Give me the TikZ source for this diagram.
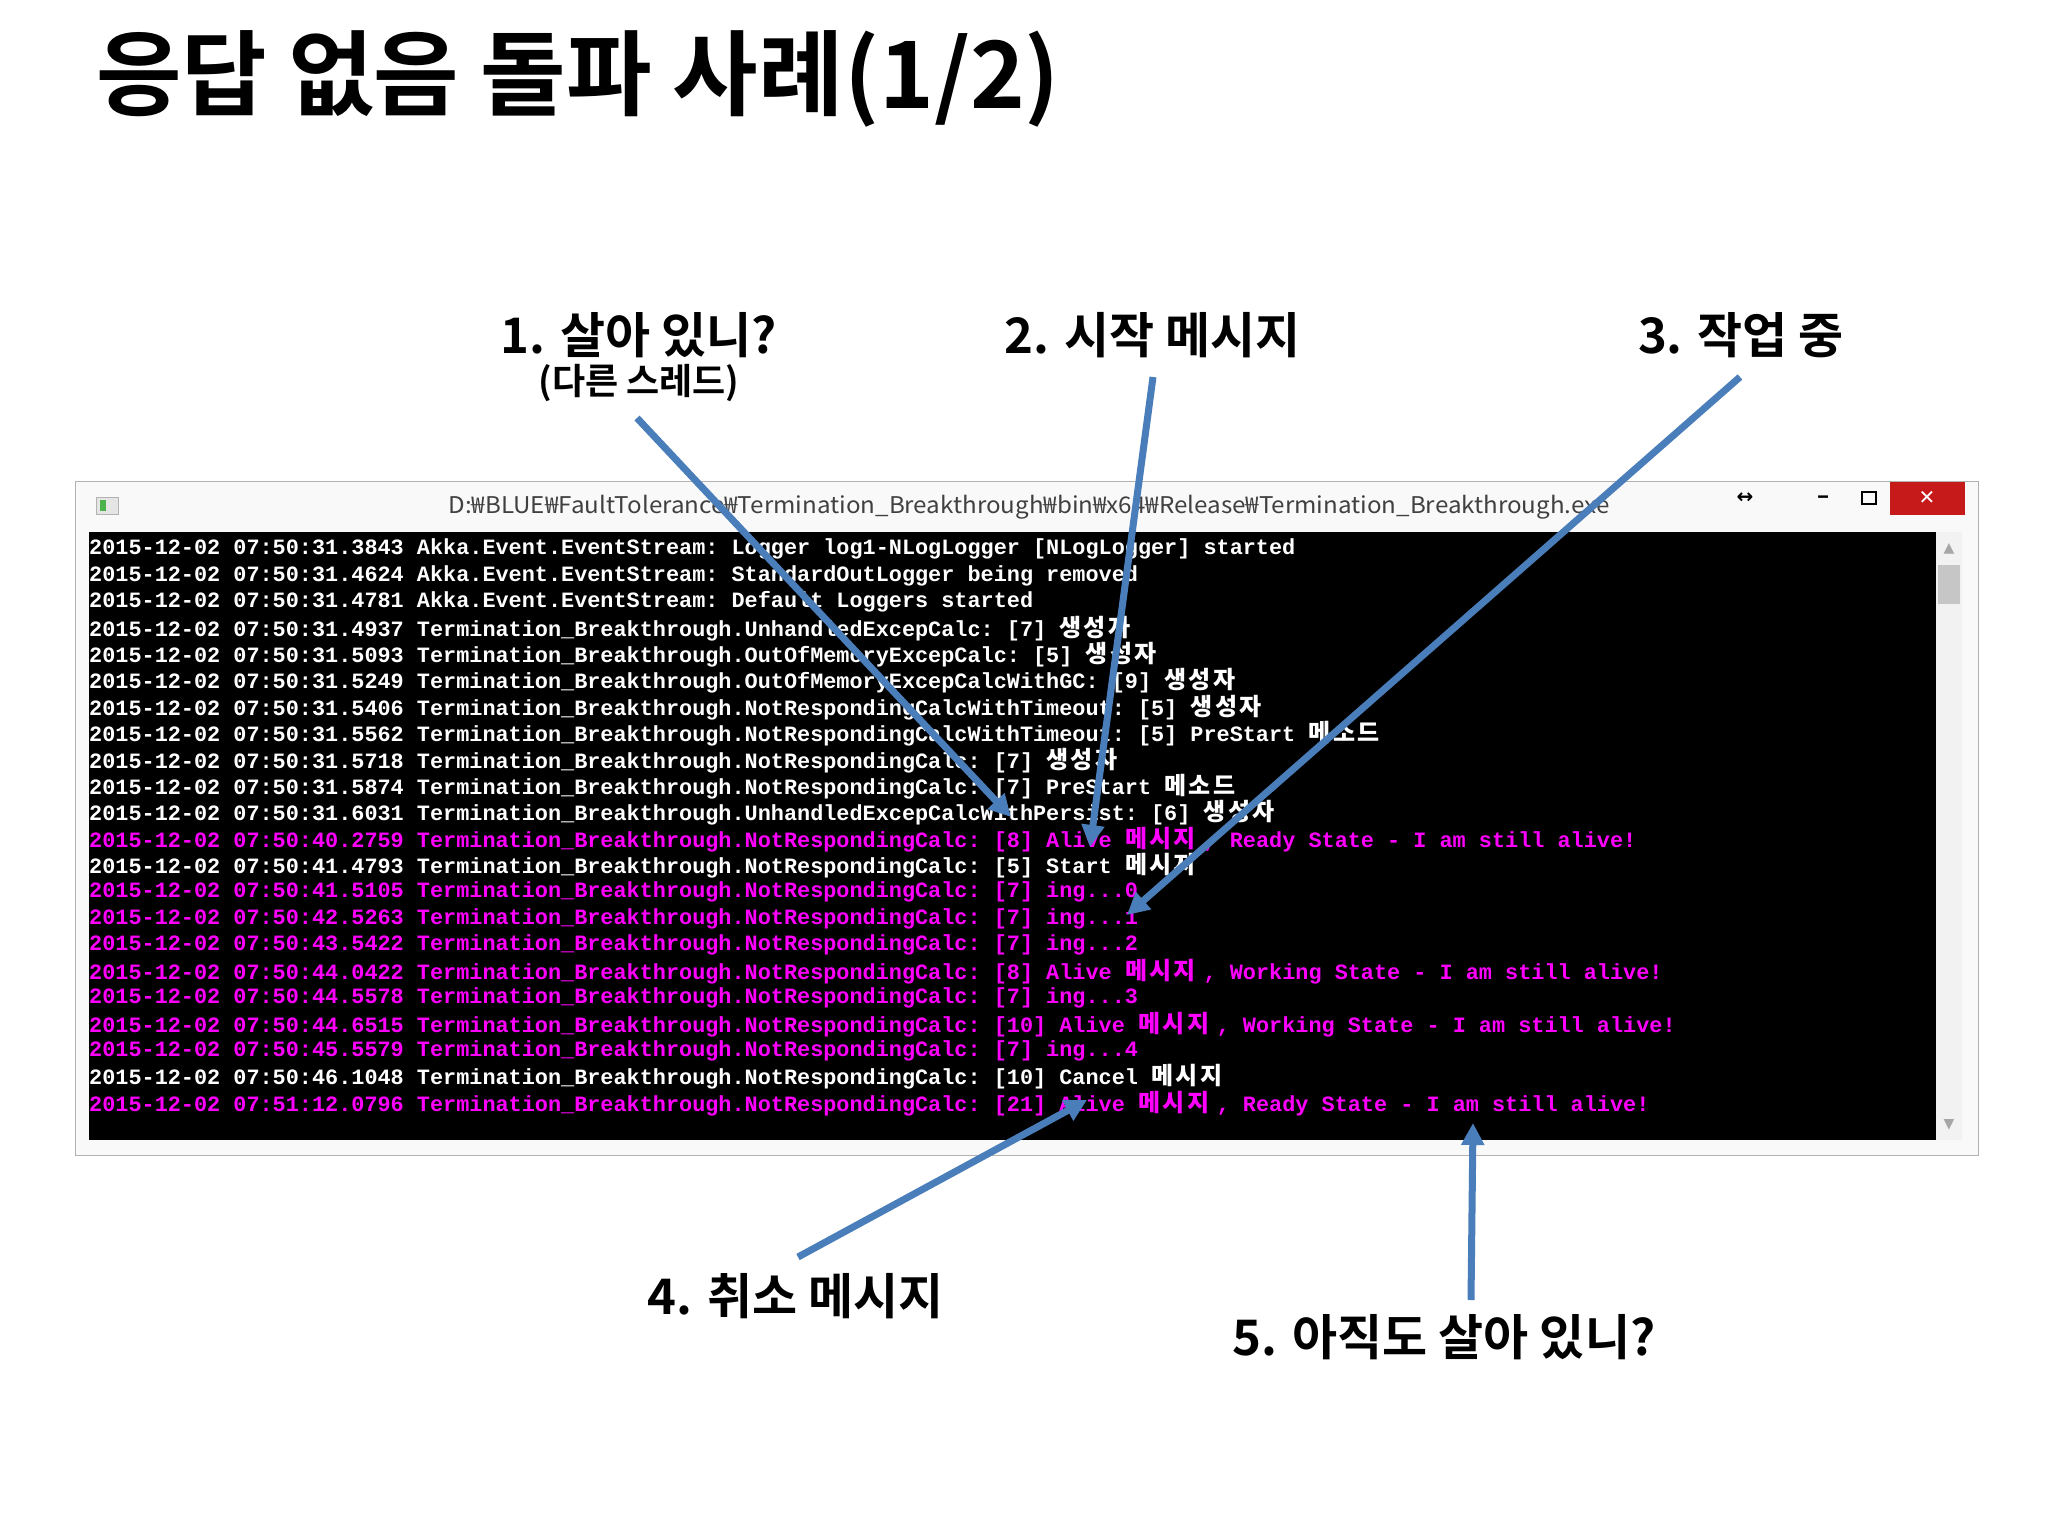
\documentclass[tikz,border=0pt]{standalone}
\usepackage{fontspec}
\setmonofont{Liberation Mono}
\newfontfamily\kr{Noto Sans CJK KR}
\newfontfamily\krb{Noto Sans CJK KR Bold}
\newfontfamily\dv{DejaVu Sans}
\usetikzlibrary{arrows.meta}
\definecolor{mag}{HTML}{FF00FF}
\definecolor{arr}{HTML}{4A7EBB}
\newcommand{\K}[1]{\makebox[78.6pt][l]{\kr\fontsize{24}{24}\selectfont\addfontfeatures{LetterSpace=10}#1}}
\tikzset{
  lw/.style={anchor=west,inner sep=0pt,text=white,font=\ttfamily\bfseries\fontsize{21.85}{22}\selectfont},
  lm/.style={lw,text=mag},
  ann/.style={font=\krb\fontsize{49}{54}\selectfont,inner sep=0pt},
  arrw/.style={draw=arr,line width=7pt,-{Triangle[length=22pt,width=22pt]}}
}
\begin{document}
\begin{tikzpicture}[x=1pt,y=-1pt]
\useasboundingbox (0,0) rectangle (2048,1536);
\fill[white] (0,0) rectangle (2048,1536);
\node[font=\krb\fontsize{93}{100}\selectfont,anchor=west,inner sep=0pt] (title) at (96,79) {응답 없음 돌파 사례(1/2)};
% window
\draw[gray!60,fill=gray!5] (75,481) rectangle (1978,1155);
\fill[black] (89,532) rectangle (1936,1140);
\fill[gray!10] (1936,532) rectangle (1962,1140);
\fill[gray!45] (1938,565) rectangle (1960,604);
\node[font=\dv\fontsize{14}{14}\selectfont,text=gray!70] (su) at (1949,549) {▲};
\node[font=\dv\fontsize{14}{14}\selectfont,text=gray!70] (sd) at (1949,1125) {▼};
\draw[gray!60,fill=gray!20] (96,497) rectangle (118,514);
\fill[green!40!gray] (100,500) rectangle (106,511);
\node[font=\kr\fontsize{23}{24}\selectfont,text=black!75,inner sep=0pt] (wt) at (1029,507) {\scalebox{1.05}[1]{D:₩BLUE₩FaultTolerance₩Termination\_Breakthrough₩bin₩x64₩Release₩Termination\_Breakthrough.exe}};
\node[font=\dv\bfseries\fontsize{20}{20}\selectfont] (bsz) at (1745,498) {↔};
\node[font=\kr\bfseries\fontsize{22}{22}\selectfont] (bmin) at (1824,500) {–};
\draw[line width=2pt] (1862,492) rectangle (1876,504);
\fill[red!75!black!90] (1890,482) rectangle (1965,515);
\node[font=\dv\bfseries\fontsize{20}{20}\selectfont,text=white] (bx) at (1927,498) {✕};
% log lines
\def\d{2015-12-02 07:50:}
\def\T{Termination\_Breakthrough.}
\node[lw] (l1) at (89,549.0) {\d31.3843 Akka.Event.EventStream: Logger log1-NLogLogger [NLogLogger] started};
\node[lw] (l2) at (89,575.4) {\d31.4624 Akka.Event.EventStream: StandardOutLogger being removed};
\node[lw] (l3) at (89,601.8) {\d31.4781 Akka.Event.EventStream: Default Loggers started};
\node[lw] (l4) at (89,628.2) {\d31.4937 \T UnhandledExcepCalc: [7] \K{생성자}};
\node[lw] (l5) at (89,654.6) {\d31.5093 \T OutOfMemoryExcepCalc: [5] \K{생성자}};
\node[lw] (l6) at (89,681.0) {\d31.5249 \T OutOfMemoryExcepCalcWithGC: [9] \K{생성자}};
\node[lw] (l7) at (89,707.4) {\d31.5406 \T NotRespondingCalcWithTimeout: [5] \K{생성자}};
\node[lw] (l8) at (89,733.8) {\d31.5562 \T NotRespondingCalcWithTimeout: [5] PreStart \K{메소드}};
\node[lw] (l9) at (89,760.2) {\d31.5718 \T NotRespondingCalc: [7] \K{생성자}};
\node[lw] (l10) at (89,786.6) {\d31.5874 \T NotRespondingCalc: [7] PreStart \K{메소드}};
\node[lw] (l11) at (89,813.0) {\d31.6031 \T UnhandledExcepCalcWithPersist: [6] \K{생성자}};
\node[lm] (l12) at (89,839.4) {\d40.2759 \T NotRespondingCalc: [8] Alive \K{메시지}, Ready State - I am still alive!};
\node[lw] (l13) at (89,865.8) {\d41.4793 \T NotRespondingCalc: [5] Start \K{메시지}};
\node[lm] (l14) at (89,892.2) {\d41.5105 \T NotRespondingCalc: [7] ing...0};
\node[lm] (l15) at (89,918.6) {\d42.5263 \T NotRespondingCalc: [7] ing...1};
\node[lm] (l16) at (89,945.0) {\d43.5422 \T NotRespondingCalc: [7] ing...2};
\node[lm] (l17) at (89,971.4) {\d44.0422 \T NotRespondingCalc: [8] Alive \K{메시지}, Working State - I am still alive!};
\node[lm] (l18) at (89,997.8) {\d44.5578 \T NotRespondingCalc: [7] ing...3};
\node[lm] (l19) at (89,1024.2) {\d44.6515 \T NotRespondingCalc: [10] Alive \K{메시지}, Working State - I am still alive!};
\node[lm] (l20) at (89,1050.6) {\d45.5579 \T NotRespondingCalc: [7] ing...4};
\node[lw] (l21) at (89,1077.0) {\d46.1048 \T NotRespondingCalc: [10] Cancel \K{메시지}};
\node[lm] (l22) at (89,1103.4) {2015-12-02 07:51:12.0796 \T NotRespondingCalc: [21] Alive \K{메시지}, Ready State - I am still alive!};
% annotations
\node[ann] (a1) at (639,335) {1. 살아 있니?};
\node[font=\krb\fontsize{36}{40}\selectfont,inner sep=0pt] (a1b) at (639,383) {(다른 스레드)};
\node[ann] (a2) at (1153,335) {2. 시작 메시지};
\node[ann] (a3) at (1741,335) {3. 작업 중};
\node[ann] (a4) at (796,1296) {4. 취소 메시지};
\node[ann] (a5) at (1444,1337) {5. 아직도 살아 있니?};
\coordinate (s1) at (637,418); \coordinate (e1) at (1011,817);
\coordinate (s2) at (1153,377); \coordinate (e2) at (1090,847);
\coordinate (s3) at (1740,377); \coordinate (e3) at (1127,915);
\coordinate (s4) at (798,1257); \coordinate (e4) at (1087,1100);
\coordinate (s5) at (1471,1300); \coordinate (e5) at (1473,1123);
\draw[arrw] (s1) -- (e1);
\draw[arrw] (s2) -- (e2);
\draw[arrw] (s3) -- (e3);
\draw[arrw] (s4) -- (e4);
\draw[arrw] (s5) -- (e5);
\end{tikzpicture}
\end{document}
